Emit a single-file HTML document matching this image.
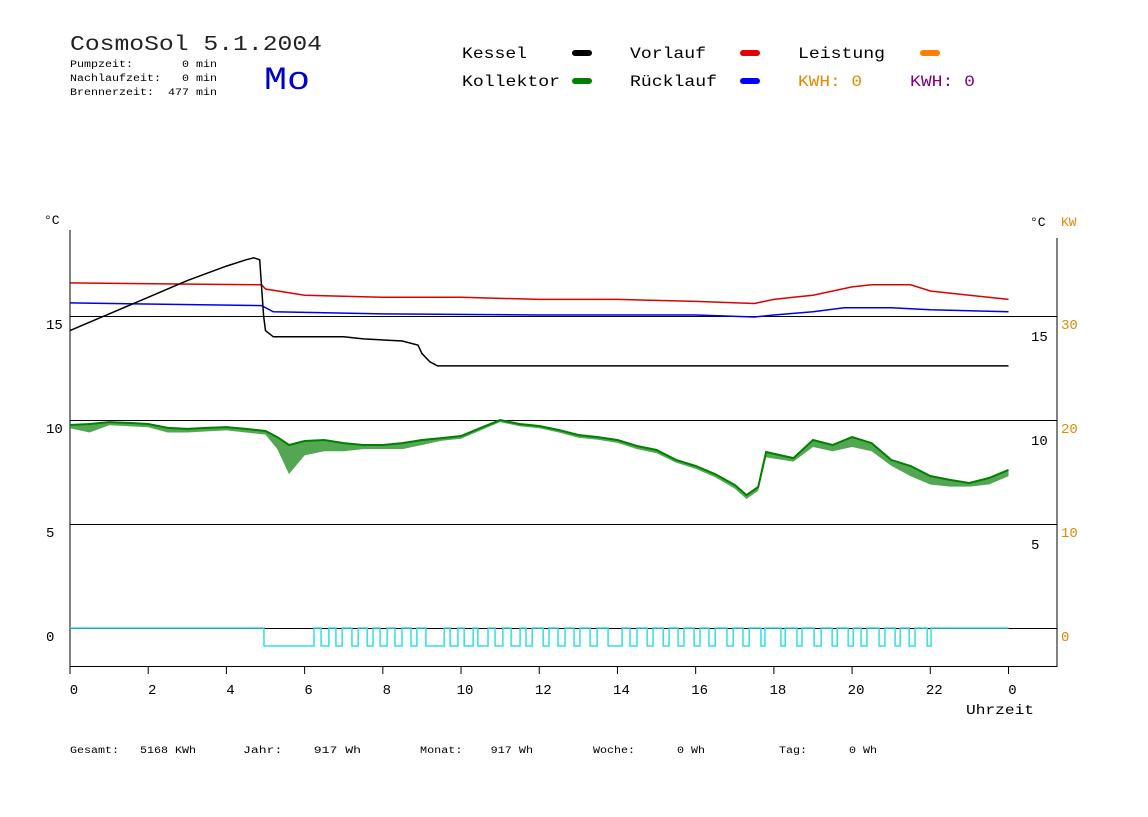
<!DOCTYPE html>
<html><head><meta charset="utf-8"><style>
body{margin:0;background:#fff;}
svg text{font-family:"Liberation Mono",monospace;}
</style></head><body>
<svg width="1148" height="812" viewBox="0 0 1148 812" xmlns="http://www.w3.org/2000/svg">
<rect width="1148" height="812" fill="#fff"/>
<text x="70" y="50" font-size="21" fill="#222" textLength="252" lengthAdjust="spacingAndGlyphs">CosmoSol 5.1.2004</text>
<g font-size="10" fill="#000">
<text x="70" y="67" xml:space="preserve" textLength="147" lengthAdjust="spacingAndGlyphs">Pumpzeit:       0 min</text>
<text x="70" y="81" xml:space="preserve" textLength="147" lengthAdjust="spacingAndGlyphs">Nachlaufzeit:   0 min</text>
<text x="70" y="95" xml:space="preserve" textLength="147" lengthAdjust="spacingAndGlyphs">Brennerzeit:  477 min</text>
</g>
<text x="264" y="89" font-size="32" fill="#0000cc" font-family="Liberation Sans,sans-serif" textLength="46" lengthAdjust="spacingAndGlyphs">Mo</text>
<g font-size="16">
<text x="462" y="58" fill="#000" textLength="65" lengthAdjust="spacingAndGlyphs">Kessel</text>
<line x1="575" y1="53" x2="589" y2="53" stroke="#000" stroke-width="6" stroke-linecap="round"/>
<text x="462" y="86" fill="#000" textLength="98" lengthAdjust="spacingAndGlyphs">Kollektor</text>
<line x1="575" y1="81" x2="589" y2="81" stroke="#008000" stroke-width="6" stroke-linecap="round"/>
<text x="630" y="58" fill="#000" textLength="76" lengthAdjust="spacingAndGlyphs">Vorlauf</text>
<line x1="743" y1="53" x2="757" y2="53" stroke="#e00000" stroke-width="6" stroke-linecap="round"/>
<text x="630" y="86" fill="#000" textLength="87" lengthAdjust="spacingAndGlyphs">Rücklauf</text>
<line x1="743" y1="81" x2="757" y2="81" stroke="#0000ff" stroke-width="6" stroke-linecap="round"/>
<text x="798" y="58" fill="#000" textLength="87" lengthAdjust="spacingAndGlyphs">Leistung</text>
<line x1="923" y1="53" x2="937" y2="53" stroke="#ff8000" stroke-width="6" stroke-linecap="round"/>
<text x="798" y="86" fill="#e08a00" textLength="64" lengthAdjust="spacingAndGlyphs">KWH: 0</text>
<text x="910" y="86" fill="#800080" textLength="65" lengthAdjust="spacingAndGlyphs">KWH: 0</text>
</g>
<g id="axes"></g>
<g id="series"></g>
<g font-size="10" fill="#000">
<text x="70" y="753" xml:space="preserve" textLength="126" lengthAdjust="spacingAndGlyphs">Gesamt:   5168 KWh</text>
<text x="243" y="753" xml:space="preserve" textLength="118" lengthAdjust="spacingAndGlyphs">Jahr:    917 Wh</text>
<text x="420" y="753" xml:space="preserve" textLength="113" lengthAdjust="spacingAndGlyphs">Monat:    917 Wh</text>
<text x="593" y="753" xml:space="preserve" textLength="112" lengthAdjust="spacingAndGlyphs">Woche:      0 Wh</text>
<text x="779" y="753" xml:space="preserve" textLength="98" lengthAdjust="spacingAndGlyphs">Tag:      0 Wh</text>
</g>
</svg>
<script>
const hours=[0,2,4,6,8,10,12,14,16,18,20,22,24];
const hourLabels=["0","2","4","6","8","10","12","14","16","18","20","22","0"];
const yTicks=[15,10,5,0];
const kwTicks=["30","20","10","0"];
const kesselH=[0,0.5,1,2,3,4,4.5,4.7,4.85,4.95,5,5.2,7,7.5,8.5,8.9,9,9.2,9.4,24];
const kesselV=[14.3,14.7,15.1,15.9,16.7,17.4,17.7,17.8,17.7,15,14.3,14.0,14.0,13.9,13.8,13.6,13.2,12.8,12.6,12.6];
const vorlaufH=[0,4.9,5,5.5,6,8,10,12,14,16,17.5,18,18.5,19,20,20.5,21.5,22,23,24];
const vorlaufV=[16.59,16.5,16.3,16.15,16.0,15.9,15.9,15.8,15.8,15.7,15.6,15.8,15.9,16.0,16.4,16.5,16.5,16.2,16.0,15.8];
const ruecklaufH=[0,4.9,5.2,8,12,16,17.5,18,19,19.8,21,22,24];
const ruecklaufV=[15.63,15.5,15.2,15.1,15.05,15.05,14.95,15.05,15.2,15.4,15.4,15.3,15.2];
const kollektorH=[0,0.5,1,1.5,2,2.5,3,3.5,4,4.5,5,5.3,5.6,6,6.5,7,7.5,8,8.5,9,9.5,10,10.5,11,11.5,12,12.5,13,13.5,14,14.5,15,15.5,16,16.5,17,17.3,17.6,17.8,18.5,19,19.5,20,20.5,21,21.5,22,22.5,23,23.5,24];
const kollektorV=[9.76,9.81,9.9,9.86,9.81,9.62,9.57,9.62,9.66,9.57,9.47,9.18,8.8,8.99,9.04,8.89,8.8,8.8,8.89,9.04,9.13,9.23,9.62,10.0,9.81,9.71,9.52,9.28,9.18,9.04,8.75,8.56,8.08,7.79,7.4,6.88,6.39,6.78,8.46,8.17,9.04,8.8,9.18,8.89,8.08,7.79,7.31,7.12,6.97,7.21,7.6];
const kollektorLow=[9.6,9.4,9.75,9.7,9.65,9.4,9.4,9.45,9.5,9.4,9.3,8.6,7.4,8.3,8.5,8.5,8.6,8.6,8.6,8.8,9.0,9.1,9.5,9.9,9.7,9.6,9.4,9.15,9.05,8.9,8.6,8.4,7.95,7.65,7.25,6.7,6.2,6.6,8.2,8.0,8.7,8.5,8.7,8.5,7.8,7.3,6.9,6.8,6.8,6.9,7.3];
const pumpStart=[4.96,6.42,6.80,7.21,7.60,7.93,8.31,8.72,9.10,9.72,10.08,10.43,10.87,11.28,11.66,12.10,12.48,12.89,13.30,13.76,14.32,14.76,15.17,15.55,15.96,16.34,16.80,17.21,17.67,18.18,18.59,19.03,19.49,19.90,20.23,20.69,21.10,21.46,21.92];
const pumpEnd=[6.24,6.62,6.96,7.37,7.75,8.11,8.49,8.87,9.57,9.92,10.31,10.69,11.07,11.51,11.82,12.25,12.66,13.04,13.48,14.12,14.50,14.91,15.32,15.70,16.11,16.50,16.96,17.37,17.77,18.29,18.72,19.21,19.62,20.03,20.38,20.84,21.23,21.61,22.02];

const NS="http://www.w3.org/2000/svg";
const X0=70,X1=1057,XR=1008.5;
const xs=h=>X0+h*(XR-X0)/24;
const ys=v=>628-v*20.8;
function mk(parent,tag,attrs){const e=document.createElementNS(NS,tag);for(const k in attrs)e.setAttribute(k,attrs[k]);parent.appendChild(e);return e;}
const ax=document.getElementById('axes');
const se=document.getElementById('series');

let a=mk(ax,'line',{x1:X0,y1:230,x2:X0,y2:667,stroke:'#000'});


a=mk(ax,'line',{x1:X1,y1:238,x2:X1,y2:667,stroke:'#000'});


a=mk(ax,'line',{x1:X0,y1:666.5,x2:X1,y2:666.5,stroke:'#000'});


let t=mk(ax,'text',{x:44,y:224,'font-size':13,fill:'#000'});t.textContent='°C';


t=mk(ax,'text',{x:1030,y:226,'font-size':13,fill:'#000'});t.textContent='°C';


t=mk(ax,'text',{x:1061,y:226,'font-size':13,fill:'#e08a00'});t.textContent='KW';


t=mk(ax,'text',{x:966,y:714,'font-size':14,fill:'#000',textLength:68,lengthAdjust:'spacingAndGlyphs'});t.textContent='Uhrzeit';



yTicks.forEach((v,i)=>{
  const y=ys(v);
  const g=mk(ax,'line',{x1:X0,y1:y+0.5,x2:X1,y2:y+0.5,stroke:'#000'});
  
  
  const l=mk(ax,'text',{x:46,y:y+13,'font-size':14,fill:'#000'});l.textContent=String(v);
  
  
  if(v!==0){
    const r=mk(ax,'text',{x:1031,y:y+25,'font-size':14,fill:'#000'});r.textContent=String(v);
    
    
  }
  const k=mk(ax,'text',{x:1061,y:y+13,'font-size':14,fill:'#e08a00'});k.textContent=kwTicks[i];
  
  
});
hours.forEach((h,i)=>{
  const x=xs(h);
  const tk=mk(ax,'line',{x1:x,y1:666,x2:x,y2:674,stroke:'#000'});
  
  
  const l=mk(ax,'text',{x:x+4,y:694,'font-size':14,fill:'#000','text-anchor':'middle'});l.textContent=hourLabels[i];
  
  
});

function pts(H,V){return H.map((h,i)=>xs(h).toFixed(1)+','+ys(V[i]).toFixed(1)).join(' ');}
let d='M'+X0+','+ys(0);
pumpStart.forEach((s,i)=>{const b=ys(0)+18;d+=' L'+xs(s)+','+ys(0)+' L'+xs(s)+','+b+' L'+xs(pumpEnd[i])+','+b+' L'+xs(pumpEnd[i])+','+ys(0);});
d+=' L'+xs(24)+','+ys(0);
let p=mk(se,'path',{d:d,fill:'none',stroke:'#30e0e0','stroke-width':1.5});


p=mk(se,'line',{x1:xs(24),y1:ys(0)+0.5,x2:X1,y2:ys(0)+0.5,stroke:'#000'});



const band=kollektorH.map((h,i)=>xs(h).toFixed(1)+','+ys(kollektorV[i]).toFixed(1)).concat(kollektorH.map((h,i)=>xs(h).toFixed(1)+','+ys(kollektorLow[i]).toFixed(1)).reverse()).join(' ');
p=mk(se,'polygon',{points:band,fill:'#1a8a1a',opacity:0.75});


p=mk(se,'polyline',{points:pts(kollektorH,kollektorV),fill:'none',stroke:'#008000','stroke-width':2});


p=mk(se,'polyline',{points:pts(ruecklaufH,ruecklaufV),fill:'none',stroke:'#0000ee','stroke-width':1.5});


p=mk(se,'polyline',{points:pts(vorlaufH,vorlaufV),fill:'none',stroke:'#dd0000','stroke-width':1.5});


p=mk(se,'polyline',{points:pts(kesselH,kesselV),fill:'none',stroke:'#000','stroke-width':1.5});


</script>
</body></html>
